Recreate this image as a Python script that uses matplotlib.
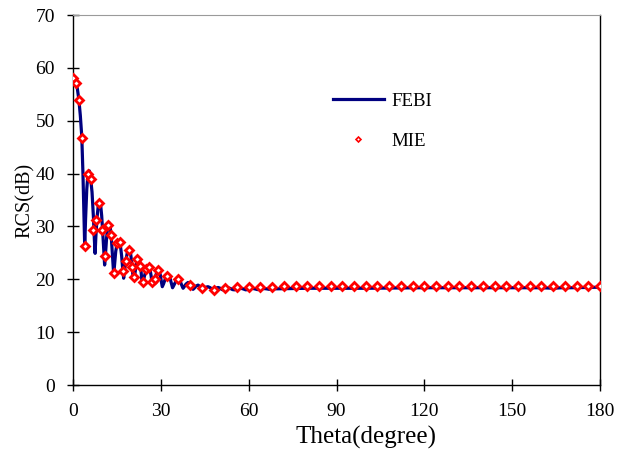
import matplotlib
matplotlib.use('Agg')
import matplotlib.pyplot as plt
from matplotlib.lines import Line2D

plt.rcParams['font.family'] = ['Liberation Serif', 'DejaVu Serif']

# MIE (reference) samples
mie_theta = list(range(0, 30)) + list(range(32, 181, 4))
mie_rcs = [58.0, 57.1, 53.9, 46.8, 26.3, 39.9, 39.0, 29.3, 31.3, 34.4,
           29.3, 24.4, 30.3, 28.3, 21.1, 26.8, 27.1, 21.6, 23.4, 25.5,
           22.3, 20.5, 23.9, 22.5, 19.5, 21.9, 22.3, 19.5, 20.1, 21.7,
           # 32 .. 180 step 4
           20.7, 20.1, 19.0, 18.3, 18.0, 18.4, 18.6, 18.6, 18.6, 18.6,
           18.7, 18.7, 18.7, 18.8, 18.8, 18.8, 18.8, 18.8, 18.8, 18.8,
           18.8, 18.8, 18.8, 18.8, 18.8, 18.8, 18.8, 18.8, 18.8, 18.8,
           18.8, 18.8, 18.8, 18.8, 18.8, 18.8, 18.8, 18.8]

# FEBI curve
febi_theta = [0, 0.5, 1, 1.5, 2, 2.5, 3, 3.4, 3.7, 4.0,
              4.3, 4.7, 5.1, 5.6, 6.0, 6.5, 7.0, 7.3, 7.55, 7.8,
              8.2, 8.6, 9.0, 9.4, 9.8, 10.2, 10.5, 10.8, 11.1, 11.5,
              11.9, 12.3, 12.7, 13.1, 13.5, 13.9, 14.2, 14.6, 15.1, 15.6,
              16.1, 16.6, 17.0, 17.3, 17.6, 18.0, 18.6, 19.1, 19.6, 20.1,
              20.45, 20.75, 21.1, 21.6, 22.2, 22.7, 23.2, 23.55, 23.9, 24.4,
              25.0, 25.6, 26.2, 26.7, 27.05, 27.4, 28.0, 28.6, 29.2, 29.8,
              30.2, 30.5, 30.9, 31.6, 32.4, 33.1, 33.6, 34.0, 34.4, 35.1,
              35.9, 36.7, 37.2, 37.6, 38.0, 38.6, 39.3, 40.0, 40.6, 41.0,
              41.4, 42.0, 42.7, 43.5, 44.0, 44.4, 44.8, 45.4, 46.1, 46.9,
              47.4, 47.8, 48.3, 48.9, 49.6, 50.3, 50.9, 51.4, 52.2, 53.0,
              53.8, 54.5, 55.2, 56.0, 57.0, 58.0, 59.0, 60.0, 61.0, 62.0,
              63.0, 64.0, 65.0, 66.0, 67.0, 68.5, 70, 75, 80, 90,
              100, 110, 120, 130, 140, 150, 160, 164, 167, 170,
              175, 180]
febi_rcs = [58.0, 57.8, 57.2, 56.0, 54.0, 51.0, 47.0, 40.0, 33.0, 26.2,
            31.5, 37.0, 39.9, 40.5, 39.2, 36.5, 31.5, 27.5, 24.9, 28.0,
            31.6, 33.8, 34.7, 34.3, 32.0, 28.5, 25.5, 22.7, 24.8, 28.0,
            30.2, 30.7, 30.0, 27.8, 24.5, 20.9, 22.8, 25.3, 26.9, 27.3,
            26.8, 24.5, 21.8, 20.2, 21.6, 23.4, 25.2, 25.8, 25.2, 23.0,
            20.8, 19.9, 20.9, 22.8, 24.2, 23.8, 21.8, 19.6, 19.3, 20.6,
            21.9, 22.5, 22.2, 20.6, 18.9, 19.4, 20.2, 21.3, 21.6, 20.9,
            19.5, 18.6, 19.1, 20.2, 20.8, 20.3, 19.2, 18.4, 18.8, 19.6,
            20.0, 19.5, 18.8, 18.3, 18.6, 19.1, 19.4, 19.1, 18.5, 18.1,
            18.3, 18.7, 18.9, 18.6, 18.2, 18.0, 18.2, 18.5, 18.6, 18.4,
            18.1, 18.0, 18.1, 18.35, 18.45, 18.3, 18.05, 18.0, 18.2, 18.4,
            18.25, 18.05, 18.0, 18.2, 18.35, 18.2, 18.0, 18.1, 18.3, 18.2,
            18.05, 18.1, 18.25, 18.2, 18.1, 18.2, 18.2, 18.25, 18.3, 18.3,
            18.3, 18.35, 18.4, 18.4, 18.4, 18.4, 18.4, 18.3, 18.4, 18.4,
            18.45, 18.5]

fig = plt.figure(figsize=(6.26, 4.55), dpi=100)
ax = fig.add_axes([73/626, 70/455, 527/626, 370/455])

ax.plot(febi_theta, febi_rcs, color='#000080', lw=2.3, zorder=2)
ax.plot(mie_theta, mie_rcs, ls='none', marker='D', ms=3.6, mew=2.0,
        mec='#ff0000', mfc='white', zorder=3)

ax.set_xlim(0, 180)
ax.set_ylim(0, 70)
ax.set_xticks(range(0, 181, 30))
ax.set_yticks(range(0, 71, 10))
ax.tick_params(direction='inout', length=8, width=1, labelsize=14, pad=9,
               colors='black')
for s in ['left', 'bottom', 'right']:
    ax.spines[s].set_linewidth(1.0)
ax.spines['top'].set_color('#9a9a9a')
ax.spines['top'].set_linewidth(0.8)

ax.set_xlabel('Theta(degree)', fontsize=18)
ax.xaxis.set_label_coords(0.556, -0.143)
ax.xaxis.label.set_va('center')
ax.set_ylabel('RCS(dB)', fontsize=14.5)
ax.yaxis.set_label_coords(-0.09, 0.5)
ax.yaxis.label.set_va('center')

handles = [Line2D([], [], color='#000080', lw=2.3),
           Line2D([], [], ls='none', marker='D', ms=2.5, mew=1.2,
                  mec='#ff0000', mfc='white')]
ax.legend(handles, ['FEBI', 'MIE'], loc='upper left',
          bbox_to_anchor=(0.493, 0.79), frameon=False, fontsize=13.6,
          handlelength=2.7, handletextpad=0.4, labelspacing=1.2,
          borderpad=0, borderaxespad=0)

fig.savefig('out.png', dpi=100)
